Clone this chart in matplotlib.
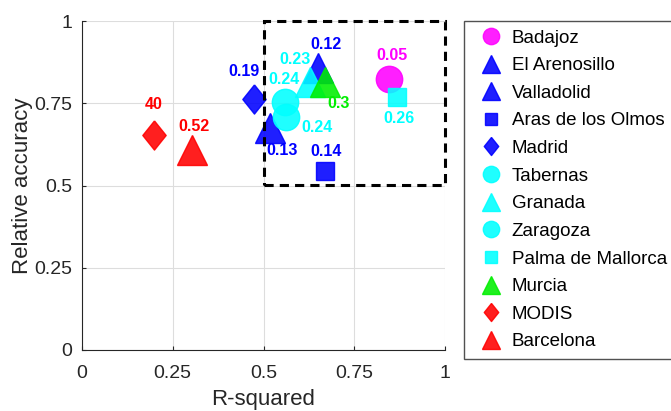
import matplotlib.pyplot as plt
from matplotlib.patches import Rectangle

plt.rcParams['font.family'] = ['Liberation Sans', 'DejaVu Sans']

# данные: станции, R-squared, относительная точность, подписи
sites = ['Badajoz', 'El Arenosillo', 'Valladolid', 'Aras de los Olmos', 'Madrid',
         'Tabernas', 'Granada', 'Zaragoza', 'Palma de Mallorca', 'Murcia',
         'MODIS', 'Barcelona']
r2 = [0.846, 0.650, 0.518, 0.669, 0.474, 0.559, 0.628, 0.562, 0.869, 0.669, 0.197, 0.304]
rel_acc = [0.824, 0.857, 0.674, 0.545, 0.762, 0.755, 0.816, 0.709, 0.770, 0.816, 0.653, 0.608]
values = ['0.05', '0.12', '0.13', '0.14', '0.19', '0.24', '0.23', '0.24', '0.26', '0.3', '40', '0.52']

colors = ['#ff00ff', '#0000ff', '#0000ff', '#0000ff', '#0000ff', '#00ffff',
          '#00ffff', '#00ffff', '#00ffff', '#00ee00', '#ff0000', '#ff0000']
diamond = [(0, 1), (0.8, 0), (0, -1), (-0.8, 0), (0, 1)]
markers = ['o', '^', '^', 's', diamond, 'o', '^', 'o', 's', '^', diamond, '^']
sizes = [19, 21, 21, 13, 21, 19, 21, 19, 13, 21, 21, 21]
# смещение подписей в пунктах
offsets = [(2, 17), (6, 17), (9, -16), (1, 14), (-7, 20), (-1, 16),
           (-11, 16), (22, -8), (1, -16), (10, -16), (0, 22), (1, 17)]

fig = plt.figure(figsize=(6.71, 4.11), dpi=100)
ax = fig.add_axes([82/671, 1 - 350/411, 363/671, 329/411])

for i in range(len(sites)):
    ax.plot(r2[i], rel_acc[i], linestyle='none', marker=markers[i], ms=sizes[i],
            color=colors[i], mec=colors[i], alpha=0.88, label=sites[i], zorder=3)

for i in range(len(sites)):
    ax.annotate(values[i], (r2[i], rel_acc[i]), xytext=offsets[i], textcoords='offset points',
                ha='center', va='center', fontsize=11.5, fontweight='bold', color=colors[i], zorder=4)

# пунктирная рамка
ax.add_patch(Rectangle((0.5, 0.5), 0.5, 0.5, fill=False, ls=(0, (3, 2)), lw=2.2,
                       ec='black', zorder=5, clip_on=False))

ax.set_xlim(0, 1)
ax.set_ylim(0, 1)
ax.set_xticks([0, 0.25, 0.5, 0.75, 1])
ax.set_yticks([0, 0.25, 0.5, 0.75, 1])
ax.set_xticklabels(['0', '0.25', '0.5', '0.75', '1'])
ax.set_yticklabels(['0', '0.25', '0.5', '0.75', '1'])
ax.tick_params(direction='in', length=3, labelsize=14, colors='#262626', pad=7)
ax.tick_params(axis='x', pad=11)
ax.grid(True, color='#dddddd', lw=0.8)
ax.set_axisbelow(True)
for s in ['top', 'right']:
    ax.spines[s].set_visible(False)
for s in ['left', 'bottom']:
    ax.spines[s].set_color('#262626')
ax.set_xlabel('R-squared', fontsize=16, color='#262626', labelpad=5)
ax.set_ylabel('Relative accuracy', fontsize=16, color='#262626', labelpad=1)

leg = fig.legend(loc='upper left', bbox_to_anchor=(464/671, 1 - 21/411), markerscale=0.62,
                 fontsize=13.5, frameon=True, fancybox=False, edgecolor='#262626',
                 borderpad=0.45, labelspacing=0.56, handletextpad=0.1, borderaxespad=0)
leg.get_frame().set_linewidth(1)

fig.savefig('out.png', dpi=100)
